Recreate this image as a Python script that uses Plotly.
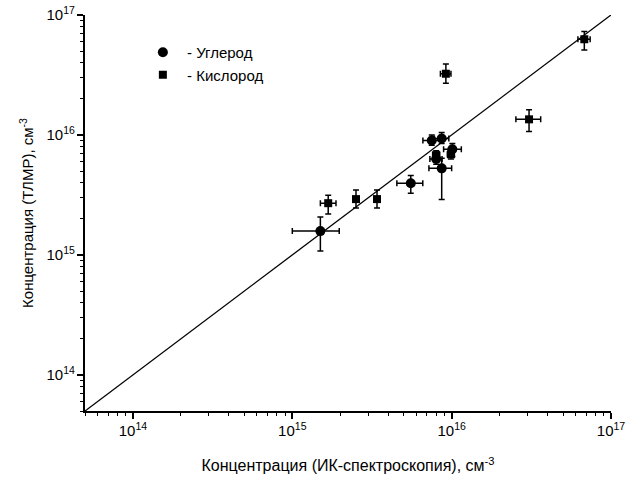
import plotly.graph_objects as go

# Carbon (circles)
c_x = [1.50e15, 5.54e15, 7.5e15, 8.66e15, 1.01e16, 8.66e15, 8.0e15]
c_y = [1.58e15, 3.96e15, 9.0e15, 9.34e15, 7.6e15, 5.27e15, 6.3e15]
c_x_lo = [1.00e15, 4.53e15, 6.6e15, 7.8e15, 8.9e15, 7.2e15, 7.3e15]
c_x_hi = [1.97e15, 6.59e15, 8.6e15, 9.6e15, 1.15e16, 1.0e16, 8.7e15]
c_y_lo = [1.08e15, 3.27e15, 8.2e15, 8.5e15, 6.6e15, 2.9e15, 5.7e15]
c_y_hi = [2.07e15, 4.60e15, 1.0e16, 1.05e16, 8.5e15, 6.4e15, 7.0e15]

# Oxygen (squares)
o_x = [1.68e15, 2.51e15, 3.40e15, 6.8e16, 3.06e16, 9.2e15, 8.0e15, 9.9e15]
o_y = [2.70e15, 2.92e15, 2.92e15, 6.28e16, 1.35e16, 3.24e16, 6.8e15, 6.9e15]
o_x_lo = [1.50e15, 2.40e15, 3.25e15, 6.2e16, 2.53e16, 8.5e15, 7.6e15, 9.4e15]
o_x_hi = [1.88e15, 2.62e15, 3.55e15, 7.4e16, 3.62e16, 9.9e15, 8.4e15, 1.04e16]
o_y_lo = [2.19e15, 2.46e15, 2.46e15, 5.1e16, 1.07e16, 2.7e16, 6.2e15, 6.3e15]
o_y_hi = [3.15e15, 3.47e15, 3.47e15, 7.3e16, 1.62e16, 3.9e16, 7.4e15, 7.6e15]

line_x = [5e13, 1e17]
line_y = [5e13, 1e17]

def err(v, lo, hi):
    return [h - a for a, h in zip(v, hi)], [a - l for a, l in zip(v, lo)]

fig = go.Figure()
fig.add_trace(go.Scatter(x=line_x, y=line_y, mode="lines",
                         line=dict(color="black", width=1.3), showlegend=False, hoverinfo="skip"))

cxp, cxm = err(c_x, c_x_lo, c_x_hi)
cyp, cym = err(c_y, c_y_lo, c_y_hi)
oxp, oxm = err(o_x, o_x_lo, o_x_hi)
oyp, oym = err(o_y, o_y_lo, o_y_hi)

ebar = dict(type="data", symmetric=False, color="black", thickness=1.5, width=3)
fig.add_trace(go.Scatter(
    x=c_x, y=c_y, mode="markers", name="\u00a0- Углерод",
    marker=dict(symbol="circle", size=10, color="black"),
    error_x=dict(ebar, array=cxp, arrayminus=cxm),
    error_y=dict(ebar, array=cyp, arrayminus=cym)))
fig.add_trace(go.Scatter(
    x=o_x, y=o_y, mode="markers", name="\u00a0- Кислород",
    marker=dict(symbol="square", size=8, color="black"),
    error_x=dict(ebar, array=oxp, arrayminus=oxm),
    error_y=dict(ebar, array=oyp, arrayminus=oym)))

axis_common = dict(type="log", range=[13.699, 17], dtick=1, exponentformat="power",
                   automargin=False,
                   showgrid=False, zeroline=False, showline=True, linecolor="black",
                   linewidth=1.5, ticks="outside", ticklen=6, tickwidth=1.5, tickcolor="black",
                   tickfont=dict(family="Liberation Sans, Arial", size=12, color="black"),
                   minor=dict(dtick="D1", ticks="outside", ticklen=3, tickwidth=1.2,
                              tickcolor="black", showgrid=False),
                   mirror=False)

fig.update_layout(
    width=629, height=484,
    margin=dict(l=85, r=18, t=15, b=73),
    paper_bgcolor="white", plot_bgcolor="white",
    font=dict(family="Liberation Sans, Arial", color="black"),
    xaxis=dict(axis_common, title=dict(text="Концентрация (ИК-спектроскопия), см<sup>-3</sup>",
                                       font=dict(size=16), standoff=22)),
    yaxis=dict(axis_common, title=dict(text="Концентрация (ТЛМР), см<sup>-3</sup>",
                                       font=dict(size=15), standoff=9)),
    legend=dict(x=0.11, y=0.947, xanchor="left", yanchor="top",
                font=dict(size=15, color="black"), bgcolor="rgba(0,0,0,0)",
                itemwidth=30, tracegroupgap=0),
)

fig.write_html("out.html")
